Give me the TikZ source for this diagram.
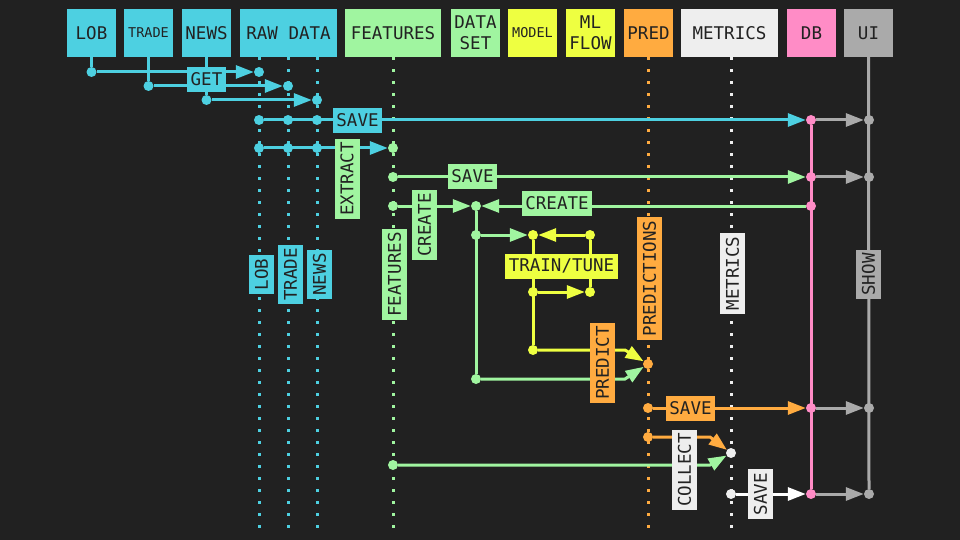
\documentclass[tikz,border=0pt]{standalone}
\usepackage{fontspec}
\newfontfamily\monofnt{DejaVu Sans Mono}
\usetikzlibrary{arrows.meta}
\definecolor{bgc}{HTML}{212121}
\definecolor{txt}{HTML}{222222}
\definecolor{cy}{HTML}{4DD0E1}
\definecolor{gr}{HTML}{A0F5A0}
\definecolor{ye}{HTML}{EEFF41}
\definecolor{orn}{HTML}{FFAB40}
\definecolor{lt}{HTML}{EEEEEE}
\definecolor{pk}{HTML}{FF8CC6}
\definecolor{gy}{HTML}{AAAAAA}
\newcommand\hfnt{\monofnt\fontsize{17.5}{21}\selectfont}
\newcommand\shfnt{\monofnt\fontsize{13.5}{16}\selectfont}
\pgfdeclarelayer{bgl}
\pgfdeclarelayer{back}
\pgfdeclarelayer{lines}
\pgfsetlayers{bgl,back,lines,main}
\begin{document}
\begin{tikzpicture}[x=1pt,y=-1pt,
  hdr/.style={fill=#1, text=txt, minimum width=49pt, minimum height=48pt, inner sep=0pt, font=\hfnt, align=center},
  lbl/.style={fill=#1, text=txt, minimum height=25pt, inner xsep=3.5pt, inner ysep=0pt, font=\hfnt},
  vlbl/.style={lbl=#1, rotate=90},
  dot/.style={circle, fill=#1, inner sep=0pt, minimum size=10pt},
  ln/.style={draw=#1, line width=3pt},
  arr/.style={draw=#1, line width=3pt, -{Triangle[length=18pt,width=13pt]}},
  life/.style={draw=#1, line width=3pt, dash pattern=on 3pt off 9pt}]
\begin{pgfonlayer}{bgl}
\useasboundingbox[fill=bgc] (0,0) rectangle (960,540);
\end{pgfonlayer}
% headers
\node[hdr=cy] (lob) at (91.5,33) {LOB};
\node[hdr=cy, font=\shfnt] (trade) at (148.5,33) {TRADE};
\node[hdr=cy] (news) at (206.5,33) {NEWS};
\node[hdr=cy, minimum width=97pt] (raw) at (288.5,33) {RAW DATA};
\node[hdr=gr, minimum width=96pt] (feat) at (393,33) {FEATURES};
\node[hdr=gr] (dset) at (475.5,33) {DATA\\SET};
\node[hdr=ye, font=\shfnt] (model) at (532.5,33) {MODEL};
\node[hdr=ye] (mlflow) at (590.5,33) {ML\\FLOW};
\node[hdr=orn] (pred) at (648.5,33) {PRED};
\node[hdr=lt, minimum width=97pt] (metrics) at (729.5,33) {METRICS};
\node[hdr=pk] (db) at (811.5,33) {DB};
\node[hdr=gy] (ui) at (868.5,33) {UI};
% dots
\node[dot=cy] (lobd) at (91.5,72) {};
\node[dot=cy] (trd) at (148.5,86) {};
\node[dot=cy] (nwd) at (206.5,100) {};
\node[dot=cy] (ra1) at (259,72) {};
\node[dot=cy] (rb1) at (288,86) {};
\node[dot=cy] (rc1) at (317,100) {};
\node[dot=cy] (ra2) at (259,120) {};
\node[dot=cy] (rb2) at (288,120) {};
\node[dot=cy] (rc2) at (317,120) {};
\node[dot=cy] (ra3) at (259,148) {};
\node[dot=cy] (rb3) at (288,148) {};
\node[dot=cy] (rc3) at (317,148) {};
\node[dot=gr] (f1) at (393,148) {};
\node[dot=gr] (f2) at (393,177) {};
\node[dot=gr] (f3) at (393,206) {};
\node[dot=gr] (f4) at (393,465) {};
\node[dot=gr] (ds1) at (476,206) {};
\node[dot=gr] (ds2) at (476,235) {};
\node[dot=gr] (ds3) at (476,379) {};
\node[dot=ye] (mo1) at (533,235) {};
\node[dot=ye] (mf1) at (590,235) {};
\node[dot=ye] (mo2) at (533,292) {};
\node[dot=ye] (mf2) at (590,292) {};
\node[dot=ye] (mo3) at (533,350) {};
\node[dot=orn] (p1) at (648,364) {};
\node[dot=orn] (p2) at (648,408) {};
\node[dot=orn] (p3) at (648,437) {};
\node[dot=lt] (m1) at (731,453) {};
\node[dot=lt] (m2) at (731,494) {};
\node[dot=pk] (db1) at (811,120) {};
\node[dot=pk] (db2) at (811,177) {};
\node[dot=pk] (db3) at (811,206) {};
\node[dot=pk] (db4) at (811,408) {};
\node[dot=pk] (db5) at (811,494) {};
\node[dot=gy] (ui1) at (869,120) {};
\node[dot=gy] (ui2) at (869,177) {};
\node[dot=gy] (ui3) at (869,408) {};
\node[dot=gy] (ui4) at (869,494) {};
% bend points and lifeline ends
\coordinate (cyel) at (625,350);
\coordinate (cgrn) at (625,379);
\coordinate (corn) at (710,437);
\coordinate (cgrn2) at (710,465);
\coordinate (e1) at (259,528);
\coordinate (e2) at (288,528);
\coordinate (e3) at (317,528);
\coordinate (e4) at (393,528);
\coordinate (e5) at (648,528);
\coordinate (e6) at (731,528);
% labels
\node[lbl=cy] (get) at (206.5,79.5) {GET};
\node[lbl=cy] (save1) at (357.5,120.5) {SAVE};
\node[vlbl=gr] (extract) at (347,179) {EXTRACT};
\node[lbl=gr] (save2) at (472.5,176.5) {SAVE};
\node[vlbl=gr] (create1) at (424.5,225) {CREATE};
\node[lbl=gr] (create2) at (557,203.5) {CREATE};
\node[lbl=ye] (train) at (561.5,266) {TRAIN/TUNE};
\node[vlbl=orn] (predict) at (602.5,363) {PREDICT};
\node[vlbl=orn] (predictions) at (649.5,278.5) {PREDICTIONS};
\node[vlbl=lt] (metl) at (732.5,273.5) {METRICS};
\node[vlbl=gy] (show) at (868.5,274.5) {SHOW};
\node[vlbl=cy] (lobl) at (261.5,274.5) {LOB};
\node[vlbl=cy] (tradel) at (290.5,274.5) {TRADE};
\node[vlbl=cy] (newsl) at (319.5,274.5) {NEWS};
\node[vlbl=gr] (featl) at (394.5,274.5) {FEATURES};
\node[lbl=orn] (save3) at (690.5,408.5) {SAVE};
\node[vlbl=lt] (collect) at (684.5,470) {COLLECT};
\node[vlbl=lt] (save4) at (760.5,494) {SAVE};
\begin{pgfonlayer}{back}
\draw[life=cy] (raw.south -| e1) -- (e1);
\draw[life=cy] (raw.south -| e2) -- (e2);
\draw[life=cy] (raw.south -| e3) -- (e3);
\draw[life=gr] (feat.south -| e4) -- (e4);
\draw[life=orn] (pred.south -| e5) -- (e5);
\draw[life=lt] (metrics.south -| e6) -- (e6);
\end{pgfonlayer}
\begin{pgfonlayer}{lines}
\draw[ln=cy] (lob) -- (lobd);
\draw[ln=cy] (trade) -- (trd);
\draw[ln=cy] (news) -- (nwd);
\draw[arr=cy] (lobd) -- (ra1);
\draw[arr=cy] (trd) -- (rb1);
\draw[arr=cy] (nwd) -- (rc1);
\draw[arr=cy] (ra2) -- (db1);
\draw[arr=cy] (ra3) -- (f1);
\draw[arr=gr] (f2) -- (db2);
\draw[arr=gr] (f3) -- (ds1);
\draw[arr=gr] (db3) -- (ds1);
\draw[ln=gr] (ds1) -- (ds3);
\draw[arr=gr] (ds2) -- (mo1);
\draw[arr=ye] (mf1) -- (mo1);
\draw[ln=ye] (mo1) -- (mo3);
\draw[ln=ye] (mf1) -- (mf2);
\draw[arr=ye] (mo2) -- (mf2);
\draw[arr=ye] (mo3) -- (cyel) -- (p1);
\draw[arr=gr] (ds3) -- (cgrn) -- (p1);
\draw[arr=orn] (p2) -- (db4);
\draw[arr=orn] (p3) -- (corn) -- (m1);
\draw[arr=gr] (f4) -- (cgrn2) -- (m1);
\draw[arr=white] (m2) -- (db5);
\draw[ln=pk] (db1) -- (db5);
\draw[ln=gy] (ui) -- (ui4);
\draw[arr=gy] (db1) -- (ui1);
\draw[arr=gy] (db2) -- (ui2);
\draw[arr=gy] (db4) -- (ui3);
\draw[arr=gy] (db5) -- (ui4);
\end{pgfonlayer}
\end{tikzpicture}
\end{document}
